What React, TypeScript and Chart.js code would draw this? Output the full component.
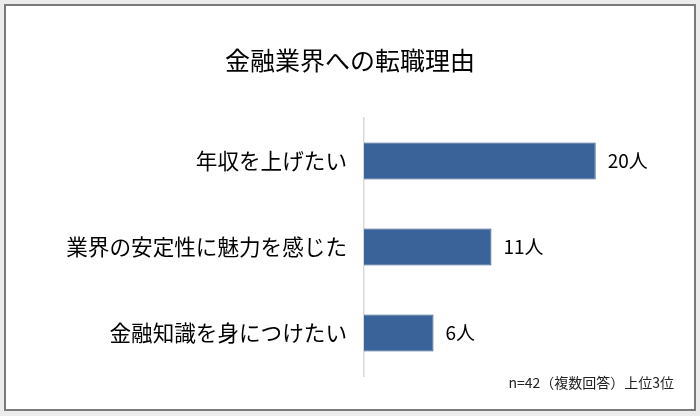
import { useEffect, useRef } from 'react';
import { Chart, registerables } from 'chart.js';

Chart.register(...registerables);

const FONT = "'Noto Sans CJK JP', 'Noto Sans', sans-serif";

const chartTitle = '金融業界への転職理由';
const reasons = ['年収を上げたい', '業界の安定性に魅力を感じた', '金融知識を身につけたい'];
const counts = [20, 11, 6];
const unit = '人';
const footnote = 'n=42（複数回答）上位3位';

// value labels next to each bar + footnote under the plot
const labelPlugin = {
  id: 'barLabels',
  afterDatasetsDraw(chart: any) {
    const { ctx, chartArea } = chart;
    const meta = chart.getDatasetMeta(0);
    ctx.save();
    ctx.fillStyle = '#000';
    ctx.font = `19px ${FONT}`;
    ctx.textAlign = 'left';
    ctx.textBaseline = 'middle';
    meta.data.forEach((bar: any, i: number) => {
      ctx.fillText(`${counts[i]}${unit}`, bar.x + 12, bar.y);
    });
    ctx.font = `14px ${FONT}`;
    ctx.textAlign = 'right';
    ctx.fillStyle = '#222';
    ctx.fillText(footnote, 674, chartArea.bottom + 7);
    ctx.restore();
  },
};

export function ReasonChart() {
  const chartRef = useRef<HTMLCanvasElement>(null);

  useEffect(() => {
    if (!chartRef.current) return;
    const ctx = chartRef.current.getContext('2d');
    if (!ctx) return;

    const chart = new Chart(ctx, {
      type: 'bar',
      data: {
        labels: reasons,
        datasets: [
          {
            data: counts,
            backgroundColor: '#3a6399',
            borderColor: '#35598c',
            borderWidth: 1,
            categoryPercentage: 1,
            barPercentage: 0.43,
          },
        ],
      },
      options: {
        indexAxis: 'y',
        responsive: false,
        animation: false,
        layout: { padding: { left: 0, right: 0, top: 0, bottom: 40 } },
        plugins: {
          legend: { display: false },
          tooltip: { enabled: false },
          title: {
            display: true,
            text: chartTitle,
            color: '#000',
            font: { family: FONT, size: 25, weight: 'normal' },
            padding: { top: 45, bottom: 43 },
          },
        },
        scales: {
          x: {
            display: false,
            min: 0,
            max: 29,
          },
          y: {
            afterFit(scale: any) {
              scale.width = 364;
            },
            grid: { display: false, drawTicks: false },
            border: { display: true, color: '#d9d9d9', width: 1.5 },
            ticks: {
              color: '#000',
              padding: 17,
              font: { family: FONT, size: 21.6 },
            },
          },
        },
      },
      plugins: [labelPlugin],
    });

    return () => chart.destroy();
  }, []);

  return <canvas ref={chartRef} width={700} height={416} style={{ position: 'absolute', left: 0, top: 0 }} />;
}

export default function App() {
  return (
    <div style={{ position: 'fixed', left: 0, top: 0, width: 700, height: 416, background: '#ececec' }}>
      <div
        style={{
          position: 'absolute',
          left: 4,
          top: 4,
          width: 688,
          height: 403,
          border: '2px solid #7a7a7a',
          background: '#fff',
        }}
      />
      <ReasonChart />
    </div>
  );
}
